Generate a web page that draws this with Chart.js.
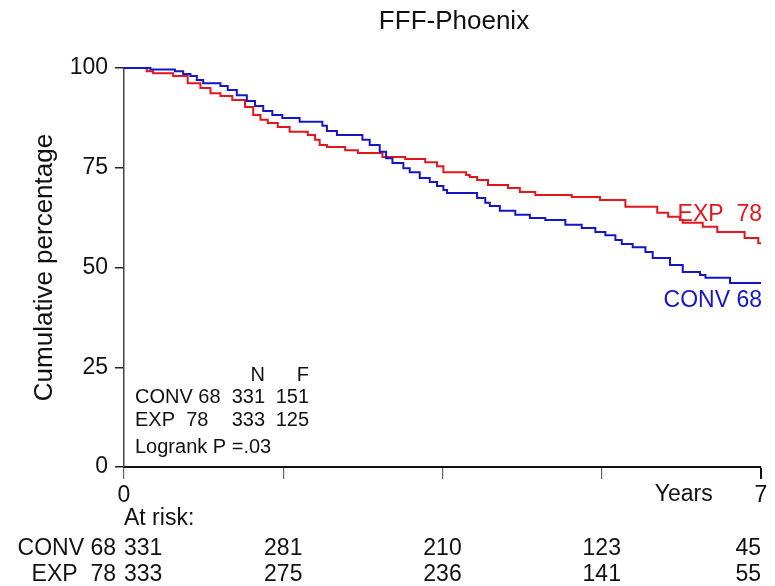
<!DOCTYPE html>
<html>
<head>
<meta charset="utf-8">
<script src="https://cdn.jsdelivr.net/npm/chart.js@4.4.1/dist/chart.umd.min.js"></script>
<style>
  html, body { margin: 0; padding: 0; background: #fff; }
</style>
</head>
<body>
<canvas id="km" width="775" height="586"></canvas>
<script>
const FONT = '"Liberation Sans", Arial, sans-serif';

// Kaplan-Meier steps: time in years, cumulative percentage after each drop
const convTimes = [0, 0.29, 0.56, 0.65, 0.73, 0.80, 0.87, 1.06, 1.14, 1.24, 1.35, 1.44, 1.53, 1.63, 1.74, 1.93,
  2.18, 2.23, 2.34, 2.62, 2.70, 2.81, 2.88, 2.95, 3.07, 3.14, 3.25, 3.36, 3.44, 3.51, 3.55, 3.88, 3.97,
  4.02, 4.13, 4.30, 4.46, 4.63, 4.85, 5.03, 5.18, 5.29, 5.40, 5.47, 5.59, 5.73, 5.81,
  6.00, 6.14, 6.33, 6.39, 6.66, 7.00];
const convSurv = [100, 99.6, 99.2, 98.5, 98.0, 97.0, 96.2, 95.5, 94.5, 93.2, 91.7, 90.5, 89.2, 88.2, 87.5, 86.5,
  85.5, 84.2, 83.2, 82.0, 80.7, 79.0, 77.4, 76.2, 74.9, 73.9, 72.4, 71.4, 70.4, 69.4, 68.7, 67.4, 66.2,
  65.4, 64.2, 63.2, 62.4, 61.9, 60.7, 59.9, 58.9, 58.1, 56.9, 55.9, 55.1, 53.9, 52.4,
  50.6, 48.9, 48.1, 47.4, 46.1, 46.1];

const expTimes = [0, 0.25, 0.32, 0.54, 0.70, 0.84, 0.95, 1.06, 1.19, 1.33, 1.42, 1.50, 1.58, 1.69, 1.82,
  2.02, 2.10, 2.15, 2.23, 2.43, 2.57, 2.84, 3.09, 3.31, 3.44, 3.51, 3.76, 3.80, 3.88,
  4.00, 4.22, 4.35, 4.52, 4.92, 5.23, 5.51, 5.86, 5.98, 6.11, 6.14, 6.36, 6.52, 6.82, 6.97, 7.00];
const expSurv = [100, 99.2, 98.7, 98.0, 96.2, 95.0, 93.7, 93.0, 92.0, 90.2, 88.2, 87.0, 86.2, 85.2, 84.0,
  83.2, 82.0, 80.7, 80.2, 79.4, 78.7, 77.7, 77.2, 76.4, 75.4, 73.9, 73.2, 72.7, 71.9,
  70.7, 69.9, 68.9, 68.2, 67.7, 66.9, 65.2, 63.7, 62.7, 61.9, 61.2, 60.2, 58.9, 57.4, 56.1, 56.1];

const riskTimes = [0, 1.75, 3.5, 5.25, 7];
const convAtRisk = [331, 281, 210, 123, 45];
const expAtRisk = [333, 275, 236, 141, 55];
const yTicks = [0, 25, 50, 75, 100];

const BLUE = '#1616c8';
const RED = '#e3161e';

const toPoints = (ts, ss) => ts.map((t, i) => ({ x: t, y: ss[i] }));

const textPlugin = {
  id: 'kmText',
  afterDraw(chart) {
    const ctx = chart.ctx;
    const area = chart.chartArea;
    const xs = chart.scales.x;
    const ys = chart.scales.y;
    ctx.save();
    ctx.textBaseline = 'middle';
    ctx.fillStyle = '#111';

    // title
    ctx.font = '26px ' + FONT;
    ctx.textAlign = 'center';
    ctx.fillText('FFF-Phoenix', 454, 22);

    // y axis title
    ctx.save();
    ctx.translate(45, (area.top + area.bottom) / 2);
    ctx.rotate(-Math.PI / 2);
    ctx.font = '26px ' + FONT;
    ctx.fillText('Cumulative percentage', 0, 0);
    ctx.restore();

    // N / F summary box
    ctx.font = '20px ' + FONT;
    const lx = area.left + 11;
    const nx = area.left + 141;
    const fx = area.left + 185;
    ctx.textAlign = 'right';
    ctx.fillText('N', nx, 375);
    ctx.fillText('F', fx, 375);
    ctx.fillText('331', nx, 397);
    ctx.fillText('151', fx, 397);
    ctx.fillText('333', nx, 420);
    ctx.fillText('125', fx, 420);
    ctx.textAlign = 'left';
    ctx.fillText('CONV 68', lx, 397);
    ctx.fillText('EXP  78', lx, 420);
    ctx.fillText('Logrank P =.03', lx, 447);

    // curve labels
    ctx.font = '23px ' + FONT;
    ctx.textAlign = 'right';
    ctx.fillStyle = RED;
    ctx.fillText('EXP  78', area.right + 1, ys.getPixelForValue(63.2));
    ctx.fillStyle = BLUE;
    ctx.fillText('CONV 68', area.right + 1, ys.getPixelForValue(41.8));

    // x axis caption
    ctx.fillStyle = '#111';
    ctx.font = '23px ' + FONT;
    ctx.textAlign = 'center';
    ctx.fillText('Years', xs.getPixelForValue(6.15), 495);

    // numbers at risk
    ctx.textAlign = 'left';
    ctx.fillText('At risk:', area.left, 519);
    ctx.textAlign = 'right';
    ctx.fillText('CONV 68', area.left - 8, 549);
    ctx.fillText('EXP  78', area.left - 8, 575);
    riskTimes.forEach((t, i) => {
      const px = xs.getPixelForValue(t);
      ctx.textAlign = i === 0 ? 'left' : (i === riskTimes.length - 1 ? 'right' : 'center');
      ctx.fillText(String(convAtRisk[i]), px, 549);
      ctx.fillText(String(expAtRisk[i]), px, 575);
    });
    ctx.restore();
  }
};

new Chart(document.getElementById('km'), {
  type: 'line',
  data: {
    datasets: [
      {
        label: 'CONV 68',
        data: toPoints(convTimes, convSurv),
        borderColor: BLUE,
        borderWidth: 2,
        stepped: 'before',
        pointRadius: 0,
        fill: false,
        clip: 4
      },
      {
        label: 'EXP 78',
        data: toPoints(expTimes, expSurv),
        borderColor: RED,
        borderWidth: 2,
        stepped: 'before',
        pointRadius: 0,
        fill: false,
        clip: 4
      }
    ]
  },
  options: {
    responsive: false,
    animation: false,
    layout: { padding: { top: 68, right: 14, left: 0, bottom: 0 } },
    plugins: {
      legend: { display: false },
      tooltip: { enabled: false },
      title: { display: false }
    },
    scales: {
      x: {
        type: 'linear',
        min: 0,
        max: 7,
        afterBuildTicks: (scale) => { scale.ticks = riskTimes.map(v => ({ value: v })); },
        afterFit: (scale) => { scale.height = 119; },
        ticks: {
          autoSkip: false,
          maxRotation: 0,
          padding: 3,
          color: '#111',
          font: { family: FONT, size: 23 },
          callback: (v) => (v === 0 || v === 7) ? String(v) : ''
        },
        grid: {
          drawOnChartArea: false,
          drawTicks: true,
          tickLength: 12,
          color: (c) => (c.tick && c.tick.value === 7) ? '#111' : '#666',
          lineWidth: (c) => (c.tick && c.tick.value === 7) ? 2 : 1.2
        },
        border: { color: '#111', width: 2 }
      },
      y: {
        min: 0,
        max: 100,
        afterBuildTicks: (scale) => { scale.ticks = yTicks.map(v => ({ value: v })); },
        afterFit: (scale) => { scale.width = 124; },
        ticks: {
          padding: 7,
          color: '#111',
          font: { family: FONT, size: 23 }
        },
        grid: {
          drawOnChartArea: false,
          drawTicks: true,
          tickLength: 9,
          color: '#222',
          lineWidth: 1.5
        },
        border: { color: '#444', width: 1.5 }
      }
    }
  },
  plugins: [textPlugin]
});
</script>
</body>
</html>
